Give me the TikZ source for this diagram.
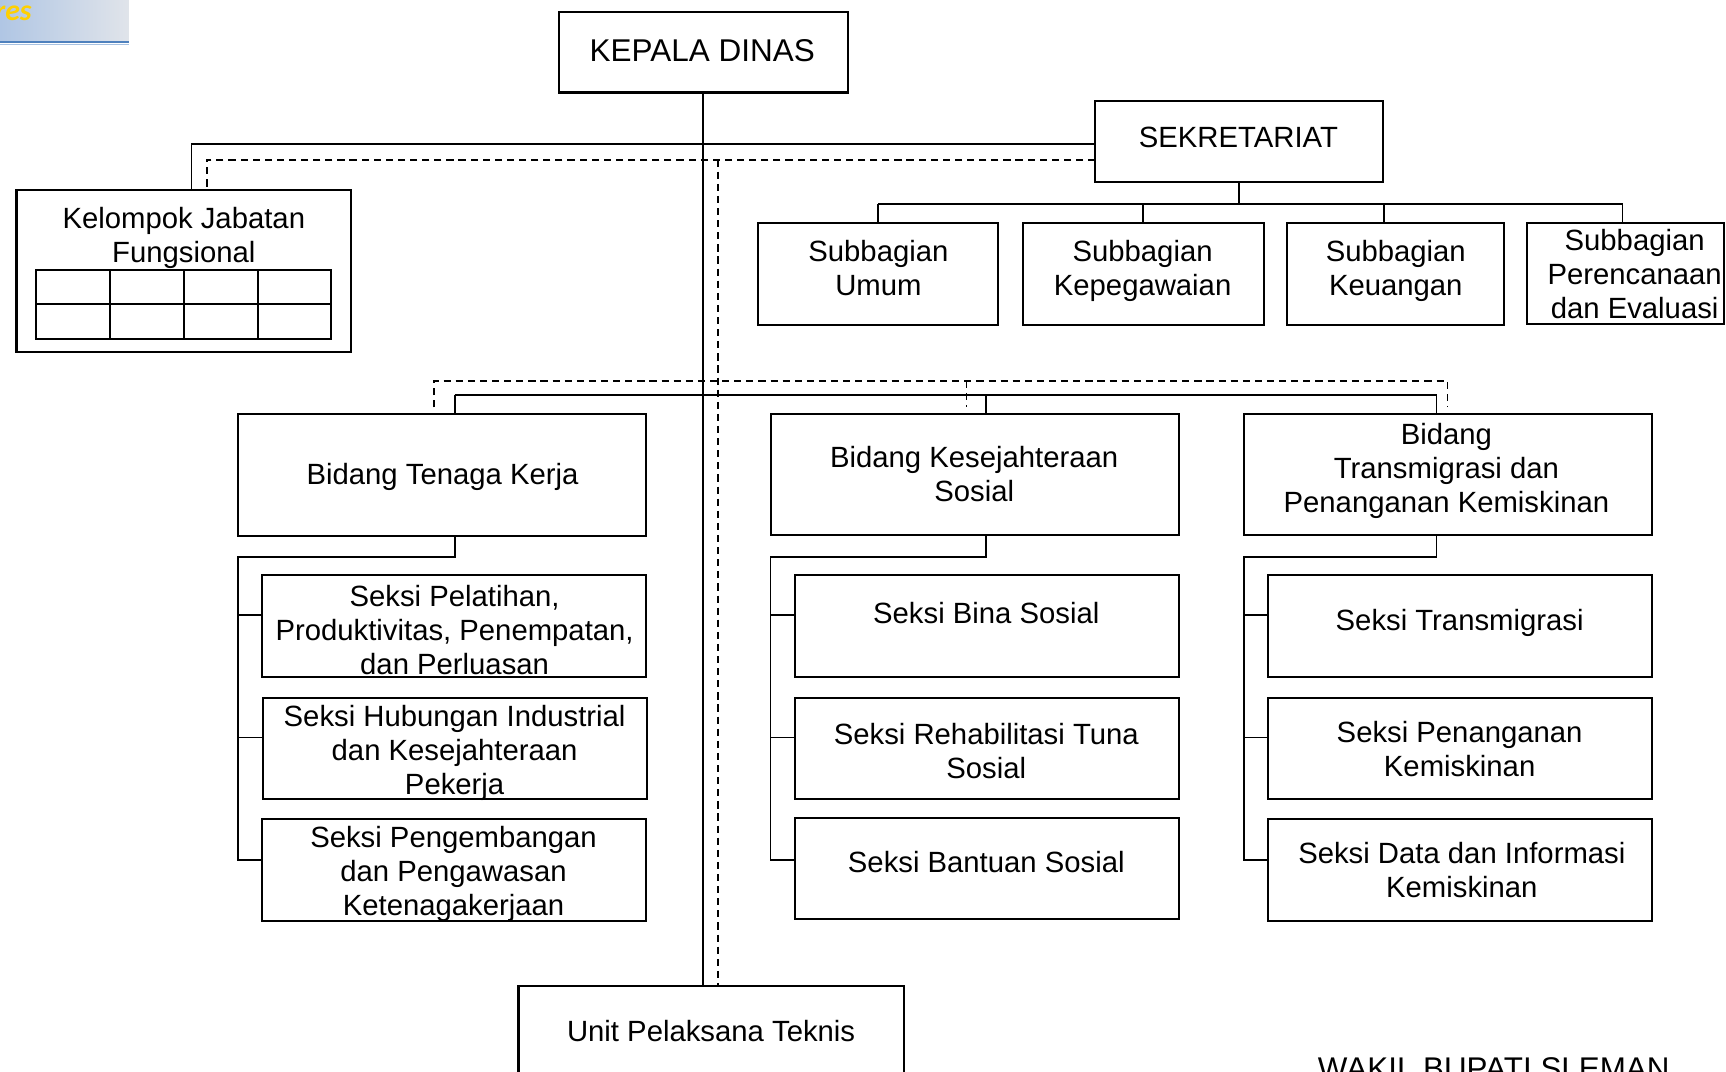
\documentclass[tikz,border=0pt]{standalone}
\usepackage{fontspec}
\setmainfont{Liberation Sans}
\newfontfamily\hdrfont{Carlito}
\definecolor{hdrL}{HTML}{B0C6E4}
\definecolor{hdrR}{HTML}{E0E4EA}
\definecolor{hdrLine}{HTML}{4F81BD}
\definecolor{hdrLine2}{HTML}{A8C2E2}
\definecolor{hdrText}{HTML}{FFD000}
\tikzset{
  box/.style={draw, line width=1.9pt, inner sep=0pt, outer sep=0pt},
  lbl/.style={font=\fontsize{26.6}{30.8}\selectfont, align=center, inner sep=0pt},
  conn/.style={line width=1.7pt},
  dconn/.style={line width=1.7pt, dash pattern=on 6.5pt off 4.5pt},
}
\newcommand\bx[5]{\node[box, minimum width={(#4-#2)*1pt}, minimum height={(#5-#3)*1pt}] (#1) at ({(#2+#4)/2},{(#3+#5)/2}) {};}
\newcommand\colconn[6]{%
  \coordinate (#1-j) at (#2,506);
  \coordinate (#1-t) at (#3,506);
  \coordinate (#1-b1) at (#3,559);
  \coordinate (#1-b2) at (#3,670);
  \coordinate (#1-b3) at (#3,781);
  \draw[conn] (#1.south -| #1-j) -- (#1-j) -- (#1-t) -- (#1-b3) -- (#6.west |- #1-b3);
  \draw[conn] (#1-b1) -- (#4.west |- #1-b1);
  \draw[conn] (#1-b2) -- (#5.west |- #1-b2);
}
\begin{document}
\begin{tikzpicture}[x=1pt,y=-1pt]
\useasboundingbox (0,0) rectangle (1568,973);
\clip (0,0) rectangle (1568,973);
\fill[white] (0,0) rectangle (1568,973);
% header fragment
\shade[left color=hdrL, right color=hdrR] (0,0) rectangle (117,38);
\draw[hdrLine, line width=2pt] (0,38.5) -- (117,38.5);
\draw[hdrLine2, line width=1pt] (0,40.2) -- (117,40.2);
\node[anchor=base east, font=\hdrfont\bfseries\itshape\fontsize{27}{32}\selectfont, text=hdrText, inner sep=0pt] (hdr) at (29,18.8) {res};
% boxes
\bx{kepala}{508}{11}{770}{84}
\bx{sek}{995}{92}{1256}{165}
\bx{kjf}{15}{173}{319}{320}
\bx{grid}{33}{245}{301}{308}
\bx{umum}{689}{203}{907}{295}
\bx{kepeg}{929}{203}{1148}{295}
\bx{keu}{1169}{203}{1366}{295}
\bx{renc}{1387}{203}{1566}{294}
\bx{tk}{216}{376}{587}{487}
\bx{kes}{700}{376}{1071}{486}
\bx{trans}{1130}{376}{1501}{486}
\bx{sa}{238}{522}{587}{615}
\bx{sb}{239}{634}{588}{726}
\bx{sc}{238}{744}{587}{837}
\bx{sd}{722}{522}{1071}{615}
\bx{se}{722}{634}{1071}{726}
\bx{sf}{722}{743}{1071}{835}
\bx{sg}{1152}{522}{1501}{615}
\bx{sh}{1152}{634}{1501}{726}
\bx{si}{1152}{744}{1501}{837}
\bx{upt}{471}{896}{821}{1010}
% grid lines
\foreach \gx in {100,167,234} {\draw[line width=1.9pt] (\gx,0 |- grid.north) -- (\gx,0 |- grid.south);}
\draw[line width=1.9pt] (grid.west) -- (grid.east);
% labels
\node[lbl, font=\fontsize{28.6}{33}\selectfont] (t-kepala) at (638,46) {KEPALA DINAS};
\node[lbl] (t-sek) at (1125,125) {SEKRETARIAT};
\node[lbl] (t-kjf) at (167,216.5) {Kelompok Jabatan\\Fungsional};
\node[lbl] (t-umum) at (798,243.5) {Subbagian\\Umum};
\node[lbl] (t-kepeg) at (1038,246.5) {Subbagian\\Kepegawaian};
\node[lbl] (t-keu) at (1268,246.5) {Subbagian\\Keuangan};
\node[lbl] (t-renc) at (1485,249) {Subbagian\\Perencanaan\\dan Evaluasi};
\node[lbl] (t-tk) at (402,433) {Bidang Tenaga Kerja};
\node[lbl] (t-kes) at (885,430.5) {Bidang Kesejahteraan\\Sosial};
\node[lbl] (t-trans) at (1314,427.5) {Bidang\\Transmigrasi dan\\Penanganan Kemiskinan};
\node[lbl] (t-sa) at (413,572) {Seksi Pelatihan,\\Produktivitas, Penempatan,\\dan Perluasan};
\node[lbl] (t-sb) at (413,684) {Seksi Hubungan Industrial\\dan Kesejahteraan\\Pekerja};
\node[lbl] (t-sc) at (412,794) {Seksi Pengembangan\\dan Pengawasan\\Ketenagakerjaan};
\node[lbl] (t-sd) at (896,557) {Seksi Bina Sosial};
\node[lbl] (t-se) at (896,682.5) {Seksi Rehabilitasi Tuna\\Sosial};
\node[lbl] (t-sf) at (896,783) {Seksi Bantuan Sosial};
\node[lbl] (t-sg) at (1326,566) {Seksi Transmigrasi};
\node[lbl] (t-sh) at (1326,680.5) {Seksi Penanganan\\Kemiskinan};
\node[lbl] (t-si) at (1328,790.5) {Seksi Data dan Informasi\\Kemiskinan};
\node[lbl] (t-upt) at (646,937) {Unit Pelaksana Teknis};
\node[lbl, anchor=base, font=\fontsize{28.5}{33}\selectfont] (wakil) at (1357,981) {WAKIL BUPATI SLEMAN};
% main connectors
\coordinate (m0) at (639,0);
\draw[conn] (m0 |- kepala.south) -- (m0 |- upt.north);
\coordinate (d0) at (652,145);
\draw[dconn] (d0) -- (d0 |- upt.north);
\coordinate (a1) at (174,131);
\draw[conn] (sek.west |- a1) -- (a1) -- (a1 |- kjf.north);
\coordinate (a2) at (188,145);
\draw[dconn] (sek.west |- a2) -- (a2) -- (a2 |- kjf.north);
% sekretariat to subbagian
\coordinate (k1) at (798,185);
\coordinate (k2) at (1038,185);
\coordinate (k3) at (1257,185);
\coordinate (k4) at (1474,185);
\draw[conn] (sek.south) -- (sek.south |- k1);
\draw[conn] (k1) -- (k4);
\draw[conn] (k1) -- (k1 |- umum.north);
\draw[conn] (k2) -- (k2 |- kepeg.north);
\draw[conn] (k3) -- (k3 |- keu.north);
\draw[conn] (k4) -- (k4 |- renc.north);
% bidang level
\coordinate (b1) at (413,359);
\coordinate (b2) at (896,359);
\coordinate (b3) at (1305,359);
\draw[conn] (b1) -- (b3);
\draw[conn] (b1) -- (b1 |- tk.north);
\draw[conn] (b2) -- (b2 |- kes.north);
\draw[conn] (b3) -- (b3 |- trans.north);
\coordinate (e1) at (394,346);
\coordinate (e2) at (878,346);
\coordinate (e3) at (1315,346);
\coordinate (e1b) at (394,370);
\coordinate (e2b) at (878,370);
\coordinate (e3b) at (1315,370);
\draw[dconn] (e1b) -- (e1) -- (e3) -- (e3b);
\draw[dconn] (e2) -- (e2b);
% seksi connectors
\colconn{tk}{413}{216}{sa}{sb}{sc}
\colconn{kes}{896}{700}{sd}{se}{sf}
\colconn{trans}{1305}{1130}{sg}{sh}{si}
\end{tikzpicture}
\end{document}
